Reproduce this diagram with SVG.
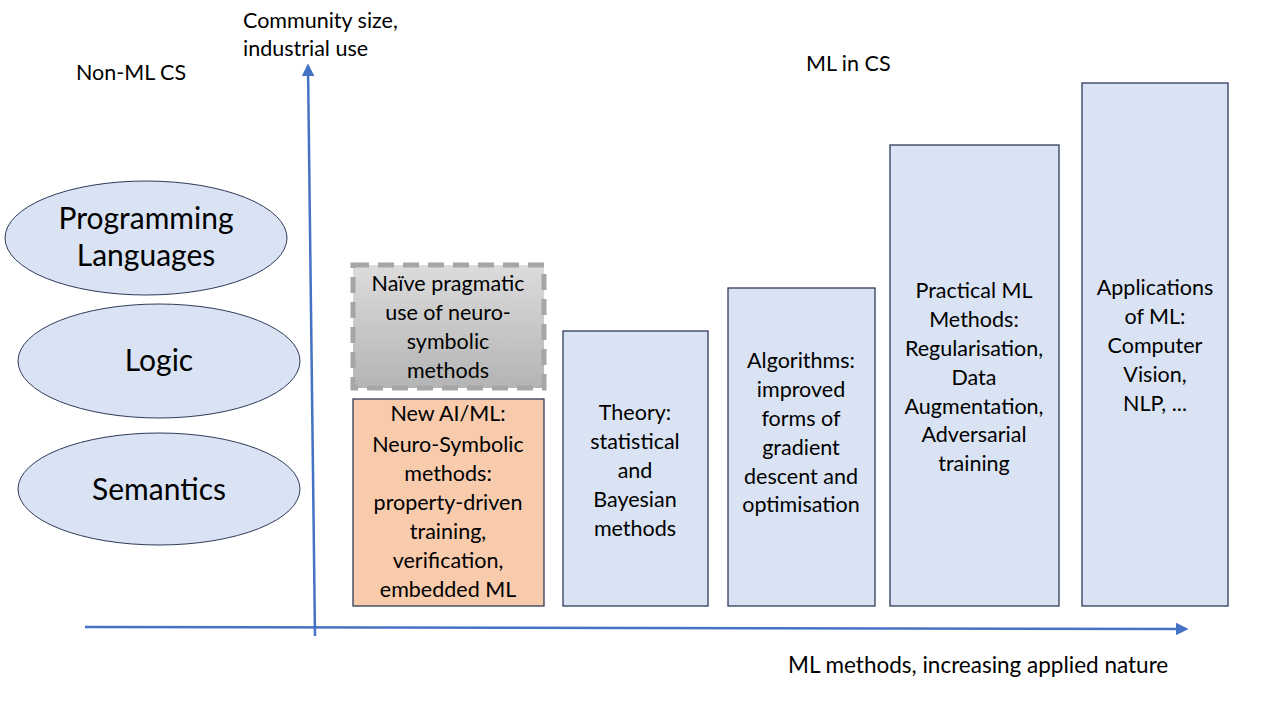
<svg xmlns="http://www.w3.org/2000/svg" width="1280" height="720" viewBox="0 0 1280 720">
<defs>
<linearGradient id="gray" x1="0" y1="0" x2="0" y2="1">
<stop offset="0" stop-color="#DCDCDC"/>
<stop offset="1" stop-color="#B4B4B4"/>
</linearGradient>
<marker id="arr" viewBox="0 0 10 10" refX="8" refY="5" markerWidth="5" markerHeight="5" orient="auto" markerUnits="strokeWidth">
<path d="M0,0 L10,5 L0,10 z" fill="#4472C4"/>
</marker>
<style>
text{font-family:Lato,"Open Sans","Liberation Sans",sans-serif;fill:#000;}
.t{font-size:21.5px;text-anchor:middle;}
.e{font-size:30px;text-anchor:middle;}
.l{font-size:21.5px;}
.ell{fill:#DAE3F3;stroke:#2F3B5A;stroke-width:1;}
.box{fill:#DAE3F3;stroke:#2F3B5A;stroke-width:1.3;}
</style>
</defs>
<rect width="1280" height="720" fill="#fff"/>
<g id="connectors">
<line x1="315" y1="636" x2="308" y2="66" stroke="#4472C4" stroke-width="2.5" marker-end="url(#arr)"/>
<line x1="85" y1="627" x2="1186" y2="629" stroke="#4472C4" stroke-width="2.5" marker-end="url(#arr)"/>
</g>
<g id="labels">
<text class="l" x="76" y="80">Non-ML CS</text>
<text class="l" x="243" y="28">Community size,</text>
<text class="l" x="243" y="56">industrial use</text>
<text class="l" x="806" y="71">ML in CS</text>
<text class="l" x="788" y="673" style="font-size:22.5px">ML methods, increasing applied nature</text>
</g>
<g id="pl">
<ellipse class="ell" cx="146" cy="238" rx="141" ry="57"/>
<text class="e" x="146" y="229">Programming</text>
<text class="e" x="146" y="266">Languages</text>
</g>
<g id="logic">
<ellipse class="ell" cx="159" cy="361" rx="141" ry="57"/>
<text class="e" x="159" y="371">Logic</text>
</g>
<g id="semantics">
<ellipse class="ell" cx="159" cy="489" rx="141" ry="56"/>
<text class="e" x="159" y="500">Semantics</text>
</g>
<g id="naive">
<rect x="353" y="265" width="191" height="123" fill="url(#gray)" stroke="#A6A6A6" stroke-width="5" stroke-dasharray="16,9"/>
<text class="t" x="448" y="291">Naïve pragmatic</text>
<text class="t" x="448" y="320">use of neuro-</text>
<text class="t" x="448" y="349">symbolic</text>
<text class="t" x="448" y="378">methods</text>
</g>
<g id="newai">
<rect x="353" y="399" width="191" height="207" fill="#F8CBAD" stroke="#2F3B5A" stroke-width="1.3"/>
<text class="t" x="448" y="421">New AI/ML:</text>
<text class="t" x="448" y="452">Neuro-Symbolic</text>
<text class="t" x="448" y="481">methods:</text>
<text class="t" x="448" y="510">property-driven</text>
<text class="t" x="448" y="539">training,</text>
<text class="t" x="448" y="568">verification,</text>
<text class="t" x="448" y="597">embedded ML</text>
</g>
<g id="theory">
<rect class="box" x="563" y="331" width="145" height="275"/>
<text class="t" x="635" y="420">Theory:</text>
<text class="t" x="635" y="449">statistical</text>
<text class="t" x="635" y="478">and</text>
<text class="t" x="635" y="507">Bayesian</text>
<text class="t" x="635" y="536">methods</text>
</g>
<g id="algorithms">
<rect class="box" x="728" y="288" width="147" height="318"/>
<text class="t" x="801" y="368">Algorithms:</text>
<text class="t" x="801" y="397">improved</text>
<text class="t" x="801" y="426">forms of</text>
<text class="t" x="801" y="455">gradient</text>
<text class="t" x="801" y="484">descent and</text>
<text class="t" x="801" y="512">optimisation</text>
</g>
<g id="practical">
<rect class="box" x="890" y="145" width="169" height="461"/>
<text class="t" x="974" y="298">Practical ML</text>
<text class="t" x="974" y="327">Methods:</text>
<text class="t" x="974" y="356">Regularisation,</text>
<text class="t" x="974" y="385">Data</text>
<text class="t" x="974" y="414">Augmentation,</text>
<text class="t" x="974" y="442">Adversarial</text>
<text class="t" x="974" y="471">training</text>
</g>
<g id="applications">
<rect class="box" x="1082" y="83" width="146" height="523"/>
<text class="t" x="1155" y="295">Applications</text>
<text class="t" x="1155" y="324">of ML:</text>
<text class="t" x="1155" y="353">Computer</text>
<text class="t" x="1155" y="382">Vision,</text>
<text class="t" x="1155" y="411">NLP, ...</text>
</g>
</svg>
